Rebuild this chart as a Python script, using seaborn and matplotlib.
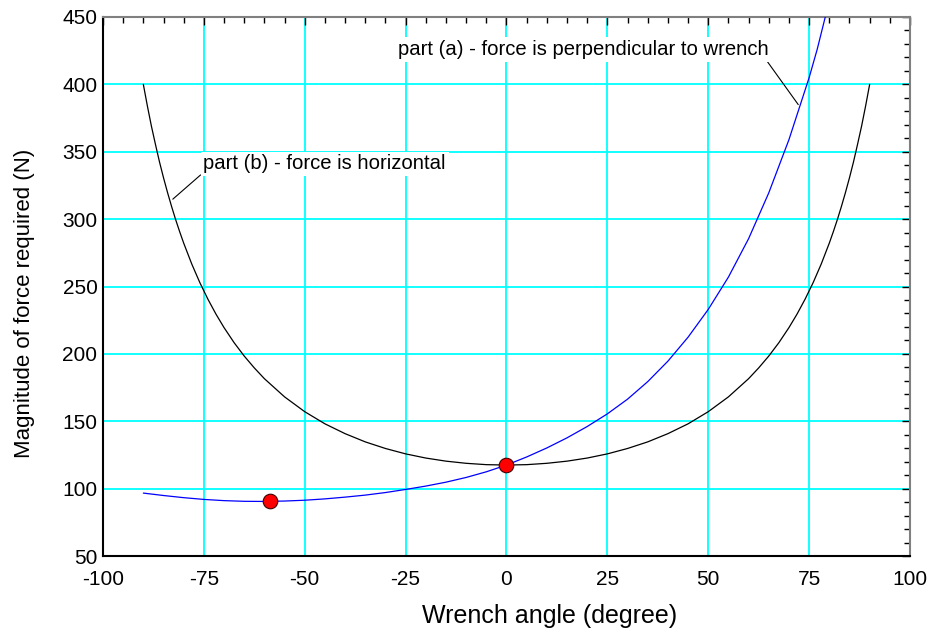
import matplotlib
matplotlib.use('Agg')
import matplotlib.pyplot as plt
import pandas as pd
import seaborn as sb
import numpy as np
from matplotlib.ticker import MultipleLocator

# part (b) - force is horizontal
angle_b = [-90, -89, -88, -87, -86, -85, -84, -83, -82, -81, -80, -78, -76, -74, -72,
           -70, -67.5, -65, -62.5, -60, -55, -50, -45, -40, -35, -30, -25, -20, -15,
           -10, -5, 0, 5, 10, 15, 20, 25, 30, 35, 40, 45, 50, 55, 60, 62.5, 65, 67.5,
           70, 72, 74, 76, 78, 80, 81, 82, 83, 84, 85, 86, 87, 88, 89, 90]
force_b = [400, 384, 369, 355.5, 342.5, 330.7, 319.7, 309.4, 299.7, 290.7, 282.2, 266.7,
           252.9, 240.6, 229.5, 219.5, 208.3, 198.4, 189.6, 181.6, 168.1, 157.1, 148.1,
           140.8, 134.7, 129.8, 125.8, 122.7, 120.4, 118.8, 117.8, 117.5, 117.8, 118.8,
           120.4, 122.7, 125.8, 129.8, 134.7, 140.8, 148.1, 157.1, 168.1, 181.6, 189.6,
           198.4, 208.3, 219.5, 229.5, 240.6, 252.9, 266.7, 282.2, 290.7, 299.7, 309.4,
           319.7, 330.7, 342.5, 355.5, 369, 384, 400]

# part (a) - force is perpendicular to wrench
angle_a = [-90, -85, -80, -75, -70, -65, -60, -55, -50, -45, -40, -35, -30, -25, -20,
           -15, -10, -5, 0, 5, 10, 15, 20, 25, 30, 35, 40, 45, 50, 55, 60, 65, 70,
           75, 77, 79]
force_a = [96.7, 94.9, 93.3, 92.0, 91.1, 90.6, 90.5, 90.8, 91.4, 92.4, 93.7, 95.2,
           97.1, 99.4, 101.9, 104.8, 108.3, 112.5, 117.5, 123.5, 130.2, 137.7, 146.1,
           155.5, 166.4, 179.4, 194.6, 212.4, 233.0, 257.0, 285.5, 319.5, 359, 405,
           426, 450]

# marked points
pt_angle = [-58.5, 0]
pt_force = [90.5, 117.5]

dfA = pd.DataFrame({'angle': angle_a, 'force': force_a})
dfB = pd.DataFrame({'angle': angle_b, 'force': force_b})
dfP = pd.DataFrame({'angle': pt_angle, 'force': pt_force})

sb.set_style('white')
plt.rcParams['font.family'] = ['Liberation Sans', 'DejaVu Sans']
plt.rcParams['axes.unicode_minus'] = False
plt.rcParams['text.color'] = 'black'
plt.rcParams['axes.labelcolor'] = 'black'

fig = plt.figure(figsize=[9.32, 6.34], dpi=100)
ax = fig.add_axes([0.1105, 0.123, 0.8659, 0.8502])

sb.lineplot(data=dfB, x='angle', y='force', color='black', lw=0.9, sort=False, ax=ax, zorder=3)
sb.lineplot(data=dfA, x='angle', y='force', color='#0000ff', lw=0.9, sort=False, ax=ax, zorder=3)
sb.scatterplot(data=dfP, x='angle', y='force', color='red', edgecolor='#400000', s=110,
               linewidth=0.8, ax=ax, zorder=5)

ax.set_xlim(-100, 100)
ax.set_ylim(50, 450)
ax.xaxis.set_major_locator(MultipleLocator(25))
ax.xaxis.set_minor_locator(MultipleLocator(5))
ax.yaxis.set_major_locator(MultipleLocator(50))
ax.yaxis.set_minor_locator(MultipleLocator(10))
ax.grid(True, which='major', color='#00ffff', lw=1.3, zorder=0)
ax.set_axisbelow(True)
ax.tick_params(which='both', direction='in', top=True, right=True, labelsize=15,
               colors='black', labelcolor='black')
ax.tick_params(which='major', length=6, width=1)
ax.tick_params(which='minor', length=4, width=1)
ax.tick_params(axis='x', which='major', pad=10)
ax.tick_params(axis='y', which='major', pad=4)
for s in ['left', 'bottom']:
    ax.spines[s].set_color('black')
    ax.spines[s].set_linewidth(1.5)
for s in ['top', 'right']:
    ax.spines[s].set_color('#808080')
    ax.spines[s].set_linewidth(1.5)

ax.set_xlabel('Wrench angle (degree)', fontsize=18, va='center', color='black')
ax.set_ylabel('Magnitude of force required (N)', fontsize=16, va='center', color='black')
ax.xaxis.set_label_coords(0.553, -0.111)
ax.yaxis.set_label_coords(-0.0967, 0.469)

box = dict(facecolor='white', edgecolor='none', pad=2)
ax.annotate('part (a) - force is perpendicular to wrench', xy=(72.3, 385), xytext=(-26.8, 426),
            fontsize=14.6, ha='left', va='center', bbox=box, zorder=4, color='black',
            arrowprops=dict(arrowstyle='-', color='black', lw=0.8, shrinkA=0, shrinkB=0,
                            relpos=(0.99, 0.0)))
ax.annotate('part (b) - force is horizontal', xy=(-82.7, 314.8), xytext=(-75.1, 341),
            fontsize=14.6, ha='left', va='center', bbox=box, zorder=4, color='black',
            arrowprops=dict(arrowstyle='-', color='black', lw=0.8, shrinkA=0, shrinkB=0,
                            relpos=(0.0, 0.05)))

plt.savefig('out.png', dpi=100)
